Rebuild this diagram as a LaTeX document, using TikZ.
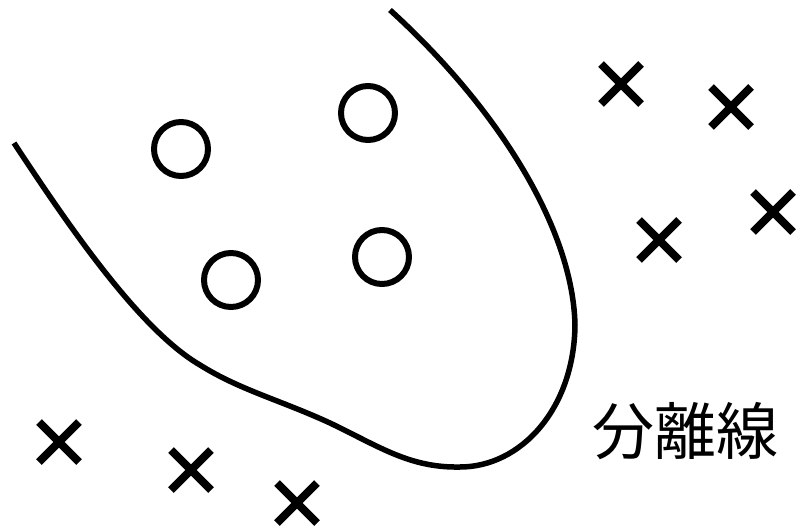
\documentclass[tikz,border=0pt]{standalone}
\usepackage{fontspec}
\newfontfamily\cjk{Noto Sans CJK JP}
\usetikzlibrary{calc}
\tikzset{
  pt/.style={circle, draw, line width=6pt, minimum size=54pt, inner sep=0pt},
  sepline/.style={line width=5.5pt},
  crossmark/.style={line width=8pt},
}
\newcommand{\crossat}[1]{\draw[crossmark] ($(#1)+(-20,-20)$) -- ($(#1)+(20,20)$) ($(#1)+(-20,20)$) -- ($(#1)+(20,-20)$);}
\begin{document}
\begin{tikzpicture}[x=1pt,y=-1pt]
\useasboundingbox (0,0) rectangle (796,530);
% separating curve
\coordinate (s) at (14,143);
\coordinate (a) at (200,365);
\coordinate (b) at (330,423);
\coordinate (c) at (460,467);
\coordinate (d) at (575,325);
\coordinate (e) at (390,10);
\draw[sepline] (s) .. controls (70,228) and (140,330) .. (a)
  .. controls (240,390) and (280,400) .. (b)
  .. controls (380,447) and (410,468) .. (c)
  .. controls (520,467) and (574,410) .. (d)
  .. controls (573,230) and (500,110) .. (e);
% circles
\node[pt] (o1) at (181,149) {};
\node[pt] (o2) at (368,113) {};
\node[pt] (o3) at (231,280) {};
\node[pt] (o4) at (382,257) {};
% crosses
\coordinate (x1) at (621,84);
\coordinate (x2) at (731,107);
\coordinate (x3) at (773,212);
\coordinate (x4) at (659,240);
\coordinate (x5) at (59,442);
\coordinate (x6) at (191,470);
\coordinate (x7) at (297,503);
\foreach \p in {x1,x2,x3,x4,x5,x6,x7}{\crossat{\p}}
% label
\node[font=\cjk\fontsize{62}{62}\selectfont, inner sep=0pt] (lab) at (685,431) {分離線};
\end{tikzpicture}
\end{document}
